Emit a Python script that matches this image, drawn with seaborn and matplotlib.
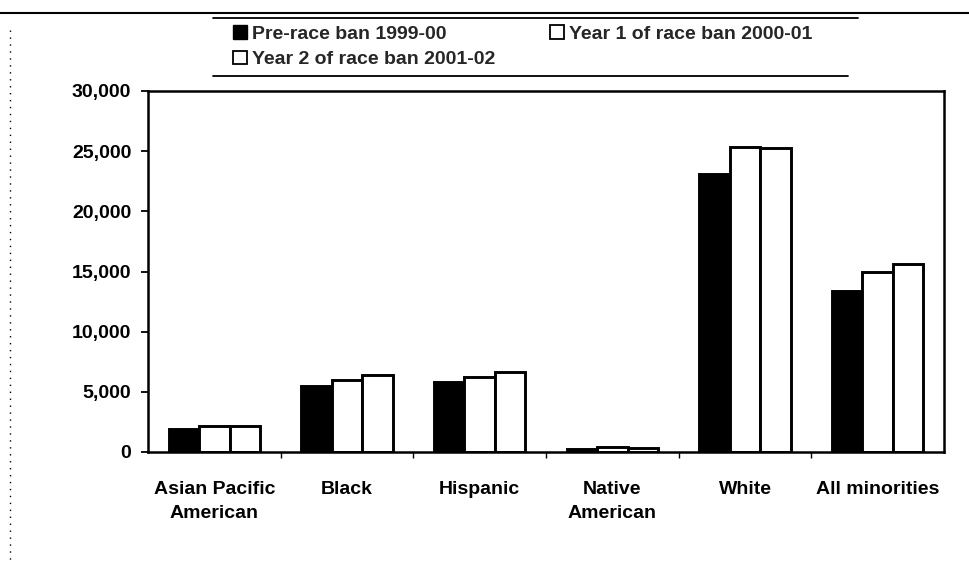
import matplotlib
matplotlib.use("Agg")
import matplotlib.pyplot as plt
import seaborn as sns
import pandas as pd
import numpy as np
from matplotlib.lines import Line2D
from matplotlib.patches import Patch
from matplotlib.ticker import FuncFormatter, MultipleLocator

categories = ["Asian Pacific\nAmerican", "Black", "Hispanic", "Native\nAmerican", "White", "All minorities"]
series_names = ["Pre-race ban 1999-00", "Year 1 of race ban 2000-01", "Year 2 of race ban 2001-02"]
pre_ban = [1930, 5450, 5780, 280, 23130, 13400]
year1 = [2200, 5980, 6200, 430, 25350, 15000]
year2 = [2200, 6370, 6620, 360, 25300, 15600]

sns.set_theme(style="white")
plt.rcParams["font.family"] = ["Liberation Sans", "DejaVu Sans"]

rows = []
for s, vals in zip(series_names, [pre_ban, year1, year2]):
    for c, v in zip(categories, vals):
        rows.append({"group": c, "series": s, "value": v})
df = pd.DataFrame(rows)

fig = plt.figure(figsize=(9.7, 5.65), dpi=100)
ax = fig.add_axes([148/970, 1 - 452/565, (944-148)/970, (452-91)/565])

palette = {series_names[0]: "black", series_names[1]: "white", series_names[2]: "white"}
sns.barplot(data=df, x="group", y="value", hue="series", order=categories,
            hue_order=series_names, palette=palette, width=0.69, ax=ax,
            edgecolor="black", linewidth=2.1, legend=False, saturation=1)

ax.set_ylim(0, 30000)
ax.set_xlim(-0.5, len(categories) - 0.5)
ax.yaxis.set_major_locator(MultipleLocator(5000))
ax.yaxis.set_major_formatter(FuncFormatter(lambda v, p: f"{int(v):,}"))
ax.set_xlabel("")
ax.set_ylabel("")
for sp in ax.spines.values():
    sp.set_visible(True)
    sp.set_color("black")
    sp.set_linewidth(1.8)
ax.tick_params(axis="y", which="major", direction="out", length=5, width=1.3,
               color="black", left=True, labelsize=14, labelcolor="black", pad=7)
ax.tick_params(axis="x", which="major", length=0, labelsize=14, labelcolor="black", pad=21)
ax.set_xticks(np.arange(len(categories)))
ax.set_xticklabels(categories, linespacing=1.5, va="top", fontweight="bold")
for t in ax.get_yticklabels():
    t.set_fontweight("bold")
ax.set_xticks(np.arange(len(categories) - 1) + 0.5, minor=True)
ax.tick_params(axis="x", which="minor", direction="out", length=4, width=1, color="black", bottom=True)
ax.grid(False)

handles = [Patch(facecolor="black", edgecolor="black", linewidth=1),
           Patch(facecolor="white", edgecolor="black", linewidth=1.3),
           Patch(facecolor="white", edgecolor="black", linewidth=1.3)]
order = [0, 2, 1]
leg = fig.legend([handles[i] for i in order], [series_names[i] for i in order],
                 ncol=2, frameon=False, loc="upper left",
                 prop={"size": 14, "weight": "bold"},
                 bbox_to_anchor=(233/970, 1 - 25/565), handlelength=0.72, handleheight=0.72,
                 handletextpad=0.26, columnspacing=2.8, labelspacing=0.4,
                 borderaxespad=0, borderpad=0)

# legend box rules and page border line
fig.add_artist(Line2D([213/970, 858/970], [1 - 18/565, 1 - 18/565], color="black", lw=1.3))
fig.add_artist(Line2D([213/970, 848/970], [1 - 76/565, 1 - 76/565], color="black", lw=1.3))
fig.add_artist(Line2D([0, 1], [1 - 13/565, 1 - 13/565], color="black", lw=1.5))
fig.add_artist(Line2D([10/970, 10/970], [1 - 30/565, 0], color="black", lw=1, ls=(0, (1, 4))))

fig.savefig("out.png", dpi=100, facecolor="white")
